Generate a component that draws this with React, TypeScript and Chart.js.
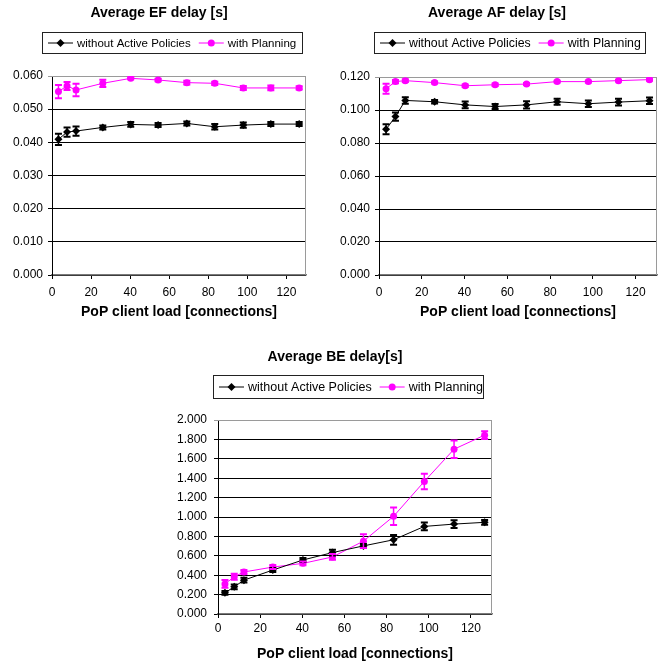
import React, { useEffect, useRef } from 'react';
import { Chart, registerables } from 'chart.js';

Chart.register(...registerables);

const FONT = "'Liberation Sans', Arial, sans-serif";

// ---- data ----
const loads = [3.3, 7.7, 12.3, 26, 40.3, 54.3, 69, 83.3, 97.9, 112, 126.5];
const xTicks = [0, 20, 40, 60, 80, 100, 120];
const seriesNames = ['without Active Policies', 'with Planning'];

const efWithout = [0.0409, 0.0431, 0.0434, 0.0445, 0.0454, 0.0452, 0.0457, 0.0447, 0.0452, 0.0455, 0.0455];
const efWithoutErr = [0.0017, 0.0014, 0.0014, 0.0006, 0.0007, 0.0006, 0.0006, 0.0008, 0.0008, 0.0006, 0.0006];
const efWith = [0.0553, 0.057, 0.0558, 0.0578, 0.0593, 0.0588, 0.058, 0.0578, 0.0564, 0.0564, 0.0564];
const efWithErr = [0.002, 0.0012, 0.0019, 0.0011, 0.0003, 0.0004, 0.0006, 0.0005, 0.0006, 0.0007, 0.0005];

const afWithout = [0.0883, 0.096, 0.1058, 0.105, 0.1031, 0.1021, 0.1031, 0.105, 0.1038, 0.1048, 0.1056];
const afWithoutErr = [0.003, 0.0025, 0.002, 0.001, 0.002, 0.0015, 0.0022, 0.0018, 0.002, 0.002, 0.002];
const afWith = [0.1129, 0.1172, 0.1178, 0.1166, 0.1147, 0.1153, 0.1157, 0.1172, 0.1172, 0.1178, 0.1184];
const afWithErr = [0.003, 0.001, 0.0008, 0.0006, 0.0008, 0.0008, 0.0006, 0.0006, 0.0006, 0.0006, 0.0006];

const beWithout = [0.218, 0.28, 0.349, 0.453, 0.557, 0.633, 0.702, 0.765, 0.903, 0.927, 0.945];
const beWithoutErr = [0.02, 0.025, 0.025, 0.02, 0.02, 0.03, 0.02, 0.05, 0.04, 0.04, 0.025];
const beWith = [0.31, 0.384, 0.433, 0.484, 0.522, 0.588, 0.751, 1.007, 1.367, 1.699, 1.844];
const beWithErr = [0.04, 0.03, 0.02, 0.02, 0.02, 0.03, 0.07, 0.09, 0.08, 0.09, 0.04];

const COLORS = ['#000000', '#FF00FF'];
const STYLES = ['rectRot', 'circle'];

type Cfg = {
  title: string;
  pos: { left: number; top: number; width: number; height: number };
  titleX: number;
  titleY: number;
  legend: { x: number; y: number; w: number; h: number; font: number };
  yMax: number;
  yStep: number;
  yAxisW: number;
  xAxisH: number;
  padRight: number;
  padTop: number;
  xTickPad: number;
  xTitlePad: number;
  yTickPad: number;
  data: number[][];
  errs: number[][];
};

const charts: Cfg[] = [
  {
    title: 'Average EF delay [s]',
    pos: { left: 0, top: 0, width: 332, height: 330 },
    titleX: 159, titleY: 13,
    legend: { x: 42, y: 32, w: 260, h: 21, font: 11.5 },
    yMax: 0.06, yStep: 0.01,
    yAxisW: 52, xAxisH: 55, padRight: 26, padTop: 76,
    xTickPad: 6, xTitlePad: 9, yTickPad: 5,
    data: [efWithout, efWith], errs: [efWithoutErr, efWithErr],
  },
  {
    title: 'Average AF delay [s]',
    pos: { left: 332, top: 0, width: 332, height: 330 },
    titleX: 165, titleY: 13,
    legend: { x: 42, y: 32, w: 271, h: 21, font: 12.3 },
    yMax: 0.12, yStep: 0.02,
    yAxisW: 47, xAxisH: 55, padRight: 7, padTop: 77,
    xTickPad: 6, xTitlePad: 9, yTickPad: 5,
    data: [afWithout, afWith], errs: [afWithoutErr, afWithErr],
  },
  {
    title: 'Average BE delay[s]',
    pos: { left: 160, top: 335, width: 340, height: 328 },
    titleX: 175, titleY: 22,
    legend: { x: 53, y: 40, w: 270, h: 23, font: 12.5 },
    yMax: 2.0, yStep: 0.2,
    yAxisW: 58, xAxisH: 49, padRight: 8, padTop: 85,
    xTickPad: 3, xTitlePad: 0, yTickPad: 7,
    data: [beWithout, beWith], errs: [beWithoutErr, beWithErr],
  },
];

function drawMarker(ctx: CanvasRenderingContext2D, style: string, x: number, y: number, color: string) {
  ctx.fillStyle = color;
  ctx.beginPath();
  if (style === 'circle') {
    ctx.arc(x, y, 3.5, 0, Math.PI * 2);
  } else {
    const r = 4;
    ctx.moveTo(x, y - r);
    ctx.lineTo(x + r, y);
    ctx.lineTo(x, y + r);
    ctx.lineTo(x - r, y);
    ctx.closePath();
  }
  ctx.fill();
}

function makePlugins(cfg: Cfg) {
  const frame = {
    id: 'frame',
    beforeDatasetsDraw(chart: any) {
      const { ctx, chartArea } = chart;
      ctx.save();
      ctx.strokeStyle = '#9a9a9a';
      ctx.lineWidth = 1;
      ctx.beginPath();
      ctx.moveTo(chartArea.left, chartArea.top + 0.5);
      ctx.lineTo(chartArea.right - 0.5, chartArea.top + 0.5);
      ctx.lineTo(chartArea.right - 0.5, chartArea.bottom);
      ctx.stroke();
      ctx.restore();
    },
  };
  const errorBars = {
    id: 'errorBars',
    afterDatasetsDraw(chart: any) {
      const { ctx } = chart;
      const xs = chart.scales.x;
      const ys = chart.scales.y;
      ctx.save();
      cfg.data.forEach((vals, si) => {
        const errs = cfg.errs[si];
        ctx.strokeStyle = COLORS[si];
        vals.forEach((v, i) => {
          const px = xs.getPixelForValue(loads[i]);
          const y1 = ys.getPixelForValue(v + errs[i]);
          const y2 = ys.getPixelForValue(v - errs[i]);
          ctx.lineWidth = 1.5;
          ctx.beginPath();
          ctx.moveTo(px, y1);
          ctx.lineTo(px, y2);
          ctx.stroke();
          ctx.lineWidth = 2;
          ctx.beginPath();
          ctx.moveTo(px - 3.5, y1);
          ctx.lineTo(px + 3.5, y1);
          ctx.moveTo(px - 3.5, y2);
          ctx.lineTo(px + 3.5, y2);
          ctx.stroke();
        });
      });
      ctx.restore();
    },
  };
  const decor = {
    id: 'decor',
    afterDraw(chart: any) {
      const { ctx } = chart;
      ctx.save();
      ctx.fillStyle = '#000';
      ctx.font = `bold 14px ${FONT}`;
      ctx.textAlign = 'center';
      ctx.textBaseline = 'middle';
      ctx.fillText(cfg.title, cfg.titleX, cfg.titleY);
      const lg = cfg.legend;
      ctx.strokeStyle = '#222';
      ctx.lineWidth = 1;
      ctx.strokeRect(lg.x + 0.5, lg.y + 0.5, lg.w, lg.h);
      ctx.font = `${lg.font}px ${FONT}`;
      ctx.textAlign = 'left';
      const cy = lg.y + lg.h / 2 + 0.5;
      let x = lg.x + 6;
      seriesNames.forEach((name, si) => {
        ctx.strokeStyle = COLORS[si];
        ctx.lineWidth = 1;
        ctx.beginPath();
        ctx.moveTo(x, cy);
        ctx.lineTo(x + 25, cy);
        ctx.stroke();
        drawMarker(ctx, STYLES[si], x + 12.5, cy, COLORS[si]);
        x += 29;
        ctx.fillStyle = '#000';
        ctx.fillText(name, x, cy + 0.5);
        x += ctx.measureText(name).width + 8;
      });
      ctx.restore();
    },
  };
  return [frame, errorBars, decor];
}

function ChartBox({ cfg }: { cfg: Cfg }) {
  const ref = useRef<HTMLCanvasElement>(null);
  useEffect(() => {
    if (!ref.current) return;
    const chart = new Chart(ref.current, {
      type: 'line',
      data: {
        datasets: cfg.data.map((vals, si) => ({
          label: seriesNames[si],
          data: vals.map((v, i) => ({ x: loads[i], y: v })),
          borderColor: COLORS[si],
          backgroundColor: COLORS[si],
          borderWidth: 1,
          pointStyle: STYLES[si] as any,
          pointRadius: si === 0 ? 4 : 3.5,
          pointBorderWidth: 0,
          tension: 0,
        })),
      },
      options: {
        responsive: false,
        animation: false,
        devicePixelRatio: 1,
        layout: { padding: { left: 0, right: cfg.padRight, top: cfg.padTop, bottom: 0 } },
        plugins: {
          legend: { display: false },
          title: { display: false },
          tooltip: { enabled: false },
        },
        scales: {
          x: {
            type: 'linear',
            min: 0,
            max: 130,
            afterBuildTicks: (s: any) => {
              s.ticks = xTicks.map((v) => ({ value: v }));
            },
            afterFit: (s: any) => {
              s.height = cfg.xAxisH;
            },
            grid: { drawOnChartArea: false, tickLength: 4, color: '#000' },
            border: { color: '#7a7a7a', width: 1.5 },
            ticks: {
              padding: cfg.xTickPad,
              color: '#000',
              font: { family: FONT, size: 12 },
              maxRotation: 0,
            },
            title: {
              display: true,
              text: 'PoP client load [connections]',
              color: '#000',
              font: { family: FONT, size: 14, weight: 'bold' },
              padding: { top: 0, bottom: cfg.xTitlePad },
            },
          },
          y: {
            min: 0,
            max: cfg.yMax,
            afterFit: (s: any) => {
              s.width = cfg.yAxisW;
            },
            grid: {
              tickLength: 4,
              lineWidth: 1,
              color: (c: any) => (c.tick && c.tick.value >= cfg.yMax - 1e-9 ? '#9a9a9a' : '#000'),
            },
            border: { color: '#000', width: 1 },
            ticks: {
              stepSize: cfg.yStep,
              padding: cfg.yTickPad,
              color: '#000',
              font: { family: FONT, size: 12 },
              callback: (v: any) => Number(v).toFixed(3),
            },
          },
        },
      },
      plugins: makePlugins(cfg),
    } as any);
    return () => chart.destroy();
  }, [cfg]);
  return (
    <canvas
      ref={ref}
      width={cfg.pos.width}
      height={cfg.pos.height}
      style={{
        position: 'absolute',
        left: cfg.pos.left,
        top: cfg.pos.top,
        width: cfg.pos.width,
        height: cfg.pos.height,
      }}
    />
  );
}

export default function App() {
  return (
    <div style={{ position: 'absolute', left: 0, top: 0, width: 664, height: 663, background: '#fff' }}>
      {charts.map((c, i) => (
        <ChartBox key={i} cfg={c} />
      ))}
    </div>
  );
}
